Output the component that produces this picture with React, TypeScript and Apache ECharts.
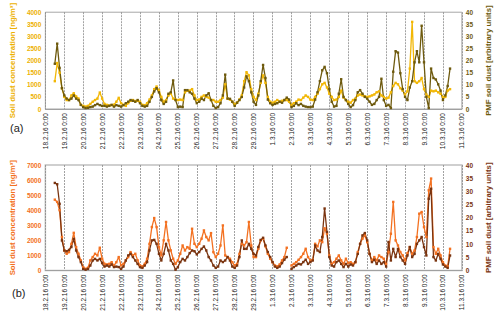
import React, { useEffect, useRef } from "react";
import * as echarts from "echarts";

// 3-hourly time stamps, 18.2.16 0:00 .. 11.3.16 0:00
const times: string[] = [];
for (let i = 0; i <= 176; i++) {
  const d = new Date(2016, 1, 18, i * 3);
  times.push(`${d.getDate()}.${d.getMonth() + 1}.16 ${d.getHours()}:00`);
}
const START = 4; // first measurement at 18.2.16 12:00

// Panel (a)
const concA = [1150,1900,1500,860,500,370,370,560,650,520,430,170,130,100,130,210,300,370,430,680,430,210,170,140,160,180,300,460,240,170,130,240,340,370,330,340,300,170,160,240,390,560,820,930,780,500,300,370,560,650,430,390,370,390,370,690,
760,760,820,560,370,390,500,560,500,470,370,370,300,300,370,470,1020,430,390,300,210,260,390,560,1150,1520,1390,820,500,370,630,1080,1390,1080,500,300,260,300,370,300,340,370,370,300,170,240,300,390,370,470,560,500,390,370,500,630,820,1020,1080,
890,630,500,370,390,500,760,470,370,300,260,370,430,560,600,560,520,500,520,560,600,690,730,560,500,430,470,690,950,1080,1020,860,760,600,730,1670,3600,1150,1080,1150,1280,820,600,500,760,730,760,690,630,500,500,760,820];
const pmfA = [18.7,27,17,8.6,5.6,4.3,3.7,4.3,5.6,4.3,3.7,1.7,0.8,0.4,0.5,0.8,1.0,1.6,2.1,1.6,1.3,1.3,1.0,1.3,1.7,1.0,1.6,1.3,1.0,1.6,2.4,3.0,3.7,3.4,3.0,3.7,2.4,1.3,1.0,1.3,3.0,5.0,7.3,8.6,6.9,3.7,2.1,3.0,6.3,6.9,11.8,3.7,0.8,1.0,0.8,7.8,
7.8,6.9,6.3,4.3,2.4,3.0,4.3,3.7,5.6,6.5,3.7,1.3,0.4,0.8,2.4,5.6,14.2,4.3,4.2,3.0,1.3,2.6,3.7,5.0,8.9,13.5,11.5,6.9,3.0,1.7,5.6,11.5,18.2,12.8,3.9,2.4,1.7,2.1,2.4,3.0,2.6,3.7,4.7,3.9,0.8,1.3,2.4,1.6,2.1,1.3,1.0,0.8,0.8,1.0,3.9,6.9,11.5,16.0,17.4,
14.8,8.2,3.0,1.0,1.3,6.3,12.3,5.0,3.7,2.1,0.8,1.6,3.7,6.9,7.8,6.3,5.0,4.3,3.0,1.7,2.1,3.7,5.0,12.5,3.7,1.3,1.7,0.4,15.4,23.9,23.3,14.8,8.2,5.0,3.7,8.9,11.5,19.3,23.9,19.3,34.4,19.3,5.0,0.4,16.7,12.8,12.2,10.2,7.6,3.7,5.6,9.5,16.7];

// Panel (b)
const concB = [4700,4550,4000,2220,1330,1110,1220,1770,2500,1550,1110,670,220,110,180,670,890,1110,1000,1510,780,440,400,440,550,330,550,890,330,440,670,890,1220,1000,1110,670,330,270,440,780,1770,2880,3480,2880,1550,1000,2000,3220,2000,1330,780,440,670,1110,1660,
1330,1550,1440,2770,1770,1550,1770,2110,2660,2220,2000,2480,1220,890,1110,1660,2990,1000,890,780,550,330,440,1110,1770,1660,1880,3220,1660,890,890,1440,2000,2110,1600,1110,780,550,330,270,400,670,890,1510,null,330,440,550,710,890,1110,1440,890,670,710,1770,1600,2000,
1880,2800,2440,1000,440,550,780,1000,670,440,780,490,550,440,550,1220,1770,2110,2330,1880,1110,670,890,670,1000,890,780,440,1220,2440,4550,2000,1660,1220,1000,670,1150,1550,1110,1330,2220,3770,3880,2880,2220,5320,6100,1550,1110,1440,1000,550,330,270,1440];
const pmfB = [33.2,32.7,25.3,11.4,7.6,7.3,7.8,8.9,12.0,7.6,5.1,3.2,0.6,0.3,0.6,1.9,3.8,4.4,3.8,4.4,2.8,1.5,1.9,1.5,2.3,1.3,1.5,1.3,0.6,1.5,3.8,5.7,6.3,5.1,3.8,2.5,1.3,1.0,1.9,3.2,7.6,11.4,11.6,10.1,6.3,3.8,6.3,10.1,7.6,3.8,2.5,0.3,1.3,3.2,4.4,
3.8,5.1,6.6,7.6,7.3,6.1,7.0,8.2,9.1,7.6,5.1,3.8,1.9,1.0,1.5,3.8,3.2,3.8,5.1,3.8,1.5,1.0,1.9,5.1,11.4,8.2,8.2,10.1,8.2,6.3,5.7,8.9,11.6,12.4,9.5,7.0,5.1,3.2,1.5,1.0,1.5,2.8,4.1,5.1,null,0.6,1.3,1.9,2.5,2.3,3.2,4.1,2.5,3.2,3.8,9.5,7.6,7.0,
12.7,23.5,14.6,5.1,1.9,1.5,3.2,3.8,2.5,1.3,2.5,1.5,2.3,1.9,3.2,6.3,10.1,13.3,14.2,11.4,6.3,3.2,4.1,2.5,3.8,2.5,3.2,1.5,10.8,3.8,8.2,5.1,8.2,5.1,3.8,2.5,5.7,8.9,5.1,6.3,10.1,11.4,12.7,8.9,5.7,27.2,31.0,5.1,3.8,6.3,4.4,2.3,1.5,1.0,5.7];

const place = (vals: (number | null)[]) => {
  const out: (number | null)[] = new Array(times.length).fill(null);
  vals.forEach((v, i) => {
    if (START + i < out.length) out[START + i] = v;
  });
  return out;
};

const YELLOW = "#F2B705";
const OLIVE = "#6E5A0E";
const ORANGE = "#F37121";
const BROWN = "#7A3410";
const FONT = "Liberation Sans, Arial, sans-serif";
const dayTick = (i: number) => i % 8 === 0;

function xAxisFor(gridIndex: number) {
  return {
    type: "category",
    gridIndex,
    data: times,
    boundaryGap: false,
    axisLine: { show: true, lineStyle: { color: "#a0a0a0", width: 1 } },
    axisTick: { show: false },
    axisLabel: {
      rotate: 90,
      interval: dayTick,
      fontSize: 6.5,
      color: "#222",
      fontFamily: FONT,
      margin: 4,
      showMaxLabel: true,
    },
    splitLine: {
      show: true,
      interval: dayTick,
      lineStyle: { type: [2, 1], color: "#8a8a8a", width: 0.8 },
    },
  };
}

function yAxisFor(gridIndex: number, pos: string, max: number, interval: number, color: string, name: string) {
  return {
    type: "value",
    gridIndex,
    position: pos,
    min: 0,
    max,
    interval,
    name,
    nameLocation: "middle",
    nameRotate: 90,
    nameGap: pos === "left" ? 26 : 15,
    nameTextStyle: { color, fontSize: 7.8, fontWeight: "bold", fontFamily: FONT },
    axisLine: { show: false },
    axisTick: { show: false },
    axisLabel: {
      color,
      fontSize: 6.5,
      fontFamily: FONT,
      margin: 4,
      fontWeight: "bold",
      formatter: (v: number) => String(v),
    },
    splitLine: { show: false },
  };
}

function lineSeries(name: string, data: (number | null)[], color: string, xi: number, yi: number) {
  return {
    type: "line",
    name,
    data: place(data),
    xAxisIndex: xi,
    yAxisIndex: yi,
    symbol: "rect",
    symbolSize: 2.4,
    showSymbol: true,
    showAllSymbol: true,
    connectNulls: false,
    lineStyle: { color, width: 1.3 },
    itemStyle: { color },
  };
}

export default function App() {
  const ref = useRef<HTMLDivElement>(null);
  useEffect(() => {
    if (!ref.current) return;
    document.body.style.margin = "0";
    const chart = echarts.init(ref.current, null, { renderer: "svg" });
    chart.setOption({
      animation: false,
      backgroundColor: "#ffffff",
      grid: [
        { left: 42, right: 35, top: 7, height: 102, show: true, borderColor: "#a8a8a8", borderWidth: 1 },
        { left: 40, right: 34, top: 165, height: 105.5, show: true, borderColor: "#c0c0c0", borderWidth: 1.5 },
      ],
      xAxis: [xAxisFor(0), xAxisFor(1)],
      yAxis: [
        yAxisFor(0, "left", 4000, 500, "#EDB100", "Soil dust concentration [ng/m³]"),
        yAxisFor(0, "right", 40, 5, OLIVE, "PMF soil dust [arbitrary units]"),
        yAxisFor(1, "left", 7000, 1000, ORANGE, "Soil dust concentration [ng/m³]"),
        yAxisFor(1, "right", 40, 5, BROWN, "PMF soil dust [arbitrary units]"),
      ],
      series: [
        lineSeries("Soil dust concentration (a)", concA, YELLOW, 0, 0),
        lineSeries("PMF soil dust (a)", pmfA, OLIVE, 0, 1),
        lineSeries("Soil dust concentration (b)", concB, ORANGE, 1, 2),
        lineSeries("PMF soil dust (b)", pmfB, BROWN, 1, 3),
      ],
      graphic: [
        { type: "text", left: 10, top: 122, style: { text: "(a)", fontSize: 11, fill: "#222", fontFamily: FONT } },
        { type: "text", left: 12, top: 287, style: { text: "(b)", fontSize: 11, fill: "#222", fontFamily: FONT } },
      ],
    });
    return () => chart.dispose();
  }, []);
  return <div ref={ref} style={{ width: 500, height: 316 }} />;
}
